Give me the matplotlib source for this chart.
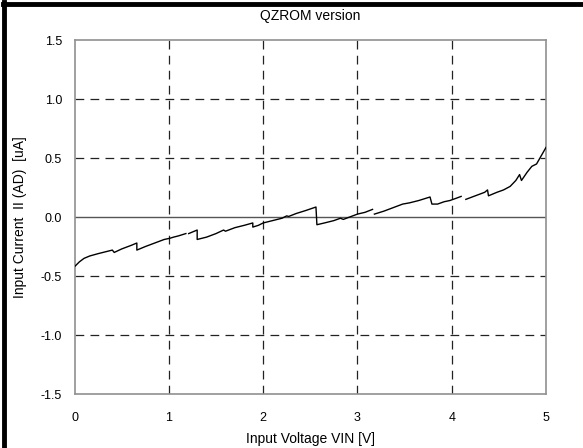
import numpy as np
import matplotlib
matplotlib.use("Agg")
import matplotlib.pyplot as plt
from matplotlib.lines import Line2D

plt.rcParams['font.family'] = ['Liberation Sans', 'DejaVu Sans']

vin = [0.00, 0.05, 0.10, 0.16, 0.25, 0.35, 0.40, 0.42, 0.50, 0.60, 0.66, 0.66,
       0.75, 0.85, 0.95, 1.01, 1.05, 1.10, 1.18, np.nan,
       1.21, 1.30, 1.30, 1.40, 1.50, 1.58, 1.60, 1.70, 1.80, 1.89, 1.89,
       1.95, 2.00, 2.10, 2.20, 2.25, 2.27, 2.35, 2.45, 2.56, 2.57,
       2.65, 2.75, 2.82, 2.85, 2.95, 3.00, 3.08, 3.16, np.nan,
       3.18, 3.28, 3.38, 3.48, 3.55, 3.65, 3.77, 3.79,
       3.85, 3.92, 3.98, 4.05, 4.10, np.nan,
       4.15, 4.25, 4.35, 4.38, 4.39, 4.48, 4.55, 4.62, 4.68, 4.72, 4.74,
       4.80, 4.85, 4.90, 4.95, 5.00]
current = [-0.42, -0.38, -0.35, -0.33, -0.31, -0.29, -0.28, -0.30, -0.27, -0.24, -0.22, -0.28,
           -0.25, -0.22, -0.19, -0.18, -0.17, -0.16, -0.14, np.nan,
           -0.14, -0.11, -0.19, -0.17, -0.14, -0.11, -0.12, -0.09, -0.07, -0.05, -0.085,
           -0.07, -0.05, -0.03, -0.01, 0.01, 0.005, 0.03, 0.055, 0.085, -0.065,
           -0.05, -0.03, -0.01, -0.02, 0.01, 0.025, 0.04, 0.065, np.nan,
           0.025, 0.05, 0.08, 0.11, 0.12, 0.14, 0.17, 0.11,
           0.11, 0.13, 0.14, 0.16, 0.175, np.nan,
           0.15, 0.18, 0.21, 0.23, 0.18, 0.21, 0.23, 0.26, 0.31, 0.36, 0.31,
           0.38, 0.43, 0.45, 0.52, 0.59]

xticks = [0, 1, 2, 3, 4, 5]
yticks = [-1.5, -1.0, -0.5, 0.0, 0.5, 1.0, 1.5]

fig = plt.figure(figsize=(5.83, 4.48), dpi=100)
ax = fig.add_axes([0.128, 0.1205, 0.8085, 0.79])

ax.set_xlim(0, 5)
ax.set_ylim(-1.5, 1.5)
ax.set_xticks(xticks)
ax.set_yticks(yticks)
ax.set_xticklabels([str(t) for t in xticks])
ax.set_yticklabels([f"{t:.1f}" for t in yticks])
ax.tick_params(length=0, labelsize=9, pad=9)
ax.tick_params(axis='x', pad=13)

for t in xticks[1:-1]:
    ax.axvline(t, color='#222222', lw=0.9, ls=(0, (7, 5)), zorder=1)
for t in yticks[1:-1]:
    if t != 0:
        ax.axhline(t, color='#222222', lw=0.9, ls=(0, (7, 5)), zorder=1)
ax.axhline(0, color='#555555', lw=1.0, zorder=1)

for s in ax.spines.values():
    s.set_color('#909090')
    s.set_linewidth(1.2)

ax.plot(vin, current, color='black', lw=1.0, zorder=3)

ax.set_title("QZROM version", fontsize=10, pad=14.5)
ax.set_xlabel("Input Voltage VIN [V]", fontsize=10, labelpad=6)
ax.set_ylabel("Input Current  II (AD)  [uA]", fontsize=10, labelpad=10)

fig.add_artist(Line2D([0.005, 1.0], [0.9915, 0.9915], transform=fig.transFigure,
                      color='black', lw=3.5))
fig.add_artist(Line2D([0.0075, 0.0075], [0.0, 0.995], transform=fig.transFigure,
                      color='black', lw=3.5))

fig.savefig("out.png", dpi=100)
